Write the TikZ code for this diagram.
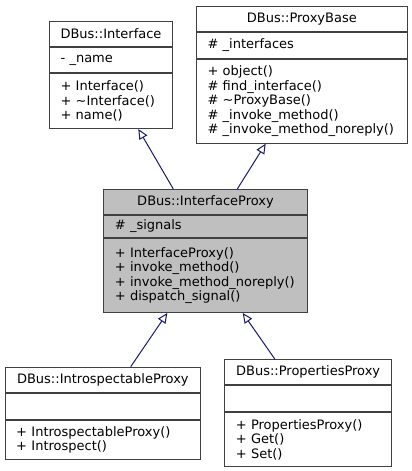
\documentclass[tikz,border=0pt]{standalone}
\usepackage{fontspec}
\setmainfont{DejaVu Sans}
\usetikzlibrary{positioning,arrows.meta}
\definecolor{midnight}{HTML}{191970}
\definecolor{boxgray}{HTML}{BFBFBF}

\begin{document}
\begin{tikzpicture}[x=1pt,y=1pt]
\tikzstyle{head}=[rectangle, draw=black!75, line width=1pt, fill=white, inner xsep=5pt, inner ysep=0pt, minimum height=25pt, align=center, font=\fontsize{13}{14.6}\selectfont]
\tikzstyle{part}=[head, inner xsep=11pt, align=left]
\tikzstyle{connect}=[{Triangle[open,length=10pt,width=9pt]}-, draw=midnight, line width=1pt]
  \useasboundingbox (0,0) rectangle (412,-471);
  % DBus::Interface
  \node[head, anchor=north west, text width=113pt] (iface) at (49,-21) {DBus::Interface};
  \node[part, text width=101pt] (ifaceattr) [below=0pt of iface] {- \_name};
  \node[part, text width=101pt, minimum height=55pt] (ifaceops) [below=0pt of ifaceattr] {+ Interface()\\+ \textasciitilde Interface()\\+ name()};
  % DBus::ProxyBase
  \node[head, anchor=north west, text width=200.7pt, minimum height=25.5pt] (pbase) at (196,-5.7) {DBus::ProxyBase};
  \node[part, text width=188.7pt, minimum height=25.5pt] (pbaseattr) [below=0pt of pbase] {\# \_interfaces};
  \node[part, text width=188.7pt, minimum height=84pt] (pbaseops) [below=0pt of pbaseattr] {+ object()\\\# find\_interface()\\\# \textasciitilde ProxyBase()\\\# \_invoke\_method()\\\# \_invoke\_method\_noreply()};
  % DBus::InterfaceProxy
  \node[head, anchor=north west, text width=193.4pt, fill=boxgray] (iproxy) at (103.3,-189) {DBus::InterfaceProxy};
  \node[part, text width=181.4pt, fill=boxgray, minimum height=22pt] (iproxyattr) [below=0pt of iproxy] {\# \_signals};
  \node[part, text width=181.4pt, fill=boxgray, minimum height=74pt] (iproxyops) [below=0pt of iproxyattr] {+ InterfaceProxy()\\+ invoke\_method()\\+ invoke\_method\_noreply()\\+ dispatch\_signal()};
  % DBus::IntrospectableProxy
  \node[head, anchor=north west, text width=185.3pt] (intro) at (4.7,-366.7) {DBus::IntrospectableProxy};
  \node[part, text width=173.3pt, minimum height=26pt] (introattr) [below=0pt of intro] {};
  \node[part, text width=173.3pt, minimum height=39.6pt] (introops) [below=0pt of introattr] {+ IntrospectableProxy()\\+ Introspect()};
  % DBus::PropertiesProxy
  \node[head, anchor=north west, text width=156.7pt, minimum height=24.7pt] (props) at (224.3,-359.3) {DBus::PropertiesProxy};
  \node[part, text width=144.7pt, minimum height=26pt] (propsattr) [below=0pt of props] {};
  \node[part, text width=144.7pt, minimum height=54.3pt] (propsops) [below=0pt of propsattr] {+ PropertiesProxy()\\+ Get()\\+ Set()};
  % inheritance
  \path ([xshift=89.3pt]ifaceops.south west) edge [connect] ([xshift=70pt]iproxy.north west)
        ([xshift=69.7pt]pbaseops.south west) edge [connect] ([xshift=134pt]iproxy.north west)
        ([xshift=64pt]iproxyops.south west) edge [connect] ([xshift=126pt]intro.north west)
        ([xshift=139.4pt]iproxyops.south west) edge [connect] ([xshift=50.7pt]props.north west);
\end{tikzpicture}
\end{document}
